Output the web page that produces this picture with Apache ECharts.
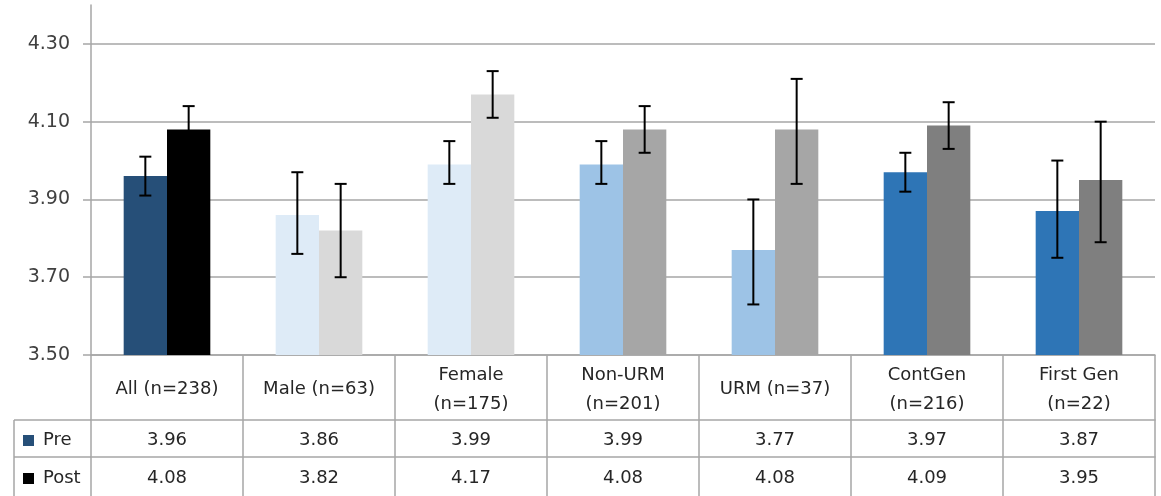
<!DOCTYPE html>
<html>
<head>
<meta charset="utf-8">
<title>Pre / Post scores</title>
<script src="https://cdn.jsdelivr.net/npm/echarts@6/dist/echarts.min.js"></script>
<style>
  html, body { margin: 0; padding: 0; background: #fff; }
  #chart { width: 1161px; height: 496px; }
</style>
</head>
<body>
<div id="chart"></div>
<script>
// data
var categories = ["All (n=238)", "Male (n=63)", "Female\n(n=175)", "Non-URM\n(n=201)", "URM (n=37)", "ContGen\n(n=216)", "First Gen\n(n=22)"];
var preValues = [3.96, 3.86, 3.99, 3.99, 3.77, 3.97, 3.87];
var postValues = [4.08, 3.82, 4.17, 4.08, 4.08, 4.09, 3.95];
var preLow = [3.91, 3.76, 3.94, 3.94, 3.63, 3.92, 3.75];
var preHigh = [4.01, 3.97, 4.05, 4.05, 3.90, 4.02, 4.00];
var postLow = [4.02, 3.70, 4.11, 4.02, 3.94, 4.03, 3.79];
var postHigh = [4.14, 3.94, 4.23, 4.14, 4.21, 4.15, 4.10];
var preColors = ["#264f78", "#deebf7", "#deebf7", "#9dc3e6", "#9dc3e6", "#2e75b6", "#2e75b6"];
var postColors = ["#000000", "#d9d9d9", "#d9d9d9", "#a6a6a6", "#a6a6a6", "#7f7f7f", "#7f7f7f"];
var yTicks = { min: 3.5, max: 4.4, step: 0.2 };

var FONT = "DejaVu Sans";
var FONT_SIZE = 18;
var GRID_LEFT = 91, GRID_RIGHT = 6, GRID_TOP = 5, PLOT_BOTTOM = 355;
var ROW1 = 65, ROW2 = 37, ROW3 = 39;
var LINE = "#a6a6a6";
var TEXT = "#262626";
var CAT_GAP = 0.43;

var chart = echarts.init(document.getElementById("chart"));

function errorBars(low, high, side) {
  return {
    type: "custom",
    xAxisIndex: 0,
    yAxisIndex: 0,
    z: 5,
    silent: true,
    encode: { x: 0, y: [1, 2] },
    data: low.map(function (v, i) { return [i, v, high[i]]; }),
    renderItem: function (params, api) {
      var band = api.size([1, 0])[0];
      var bw = band * (1 - CAT_GAP) / 2;
      var lo = api.coord([api.value(0), api.value(1)]);
      var hi = api.coord([api.value(0), api.value(2)]);
      var x = lo[0] + side * bw / 2;
      var cap = 6;
      var style = { stroke: "#000", lineWidth: 2, fill: null };
      return {
        type: "group",
        children: [
          { type: "line", shape: { x1: x, y1: lo[1], x2: x, y2: hi[1] }, style: style },
          { type: "line", shape: { x1: x - cap, y1: lo[1], x2: x + cap, y2: lo[1] }, style: style },
          { type: "line", shape: { x1: x - cap, y1: hi[1], x2: x + cap, y2: hi[1] }, style: style }
        ]
      };
    }
  };
}

function tableAxis(data, offset, tickLen, margin) {
  return {
    type: "category",
    gridIndex: 0,
    position: "bottom",
    offset: offset,
    data: data,
    axisLine: { show: true, lineStyle: { color: LINE, width: 1.5 } },
    axisTick: { show: true, interval: 0, length: tickLen, lineStyle: { color: LINE, width: 1.5 } },
    axisLabel: {
      interval: 0, margin: margin, verticalAlign: "middle", lineHeight: 29,
      fontFamily: FONT, fontSize: FONT_SIZE, color: TEXT
    },
    splitLine: { show: false }
  };
}

function rowLegend(name, center) {
  return {
    data: [{ name: name, icon: "rect" }],
    left: 23, top: center - 10, padding: 0,
    itemWidth: 11, itemHeight: 11,
    textStyle: { fontFamily: FONT, fontSize: FONT_SIZE, color: TEXT, lineHeight: 20, padding: [0, 0, 0, 4] },
    selectedMode: false
  };
}

var W = 1161, H = 496;
var y1 = PLOT_BOTTOM + ROW1, y2 = y1 + ROW2;

var option = {
  animation: false,
  backgroundColor: "#fff",
  grid: { left: GRID_LEFT, right: GRID_RIGHT, top: GRID_TOP, bottom: H - PLOT_BOTTOM },
  legend: [
    rowLegend("Pre", y1 + ROW2 / 2 + 2),
    rowLegend("Post", y2 + ROW3 / 2 + 2)
  ],
  xAxis: [
    tableAxis(categories, 0, ROW1, ROW1 / 2 + 2),
    tableAxis(preValues.map(function (v) { return v.toFixed(2); }), ROW1, ROW2 + ROW3, ROW2 / 2 + 2),
    tableAxis(postValues.map(function (v) { return v.toFixed(2); }), ROW1 + ROW2, ROW3, ROW3 / 2 + 2)
  ],
  yAxis: {
    type: "value",
    min: yTicks.min,
    max: yTicks.max,
    interval: yTicks.step,
    axisLine: { show: true, lineStyle: { color: LINE, width: 1.5 } },
    axisTick: { show: true, length: 8, lineStyle: { color: LINE, width: 1.5 } },
    axisLabel: {
      margin: 21, showMaxLabel: false, fontFamily: FONT, fontSize: 19, color: "#404040",
      formatter: function (v) { return v.toFixed(2); }
    },
    splitLine: { show: true, showMaxLine: false, lineStyle: { color: LINE, width: 1.5 } }
  },
  series: [
    {
      name: "Pre",
      type: "bar",
      barGap: "0%",
      barCategoryGap: (CAT_GAP * 100) + "%",
      itemStyle: { color: preColors[0] },
      data: preValues.map(function (v, i) { return { value: v, itemStyle: { color: preColors[i] } }; })
    },
    {
      name: "Post",
      type: "bar",
      barGap: "0%",
      barCategoryGap: (CAT_GAP * 100) + "%",
      itemStyle: { color: postColors[0] },
      data: postValues.map(function (v, i) { return { value: v, itemStyle: { color: postColors[i] } }; })
    },
    errorBars(preLow, preHigh, -1),
    errorBars(postLow, postHigh, 1)
  ],
  graphic: [
    // left column of the data table
    { type: "line", silent: true, shape: { x1: 14, y1: y1, x2: GRID_LEFT, y2: y1 }, style: { stroke: LINE, lineWidth: 1.5 } },
    { type: "line", silent: true, shape: { x1: 14, y1: y2, x2: GRID_LEFT, y2: y2 }, style: { stroke: LINE, lineWidth: 1.5 } },
    { type: "line", silent: true, shape: { x1: 14, y1: y1, x2: 14, y2: H }, style: { stroke: LINE, lineWidth: 1.5 } }
  ]
};

chart.setOption(option);
</script>
</body>
</html>
